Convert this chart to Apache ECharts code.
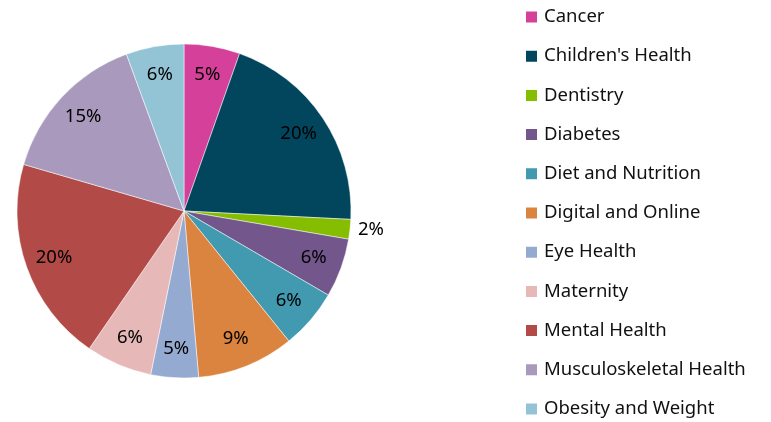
<!DOCTYPE html>
<html>
<head>
<meta charset="utf-8">
<script src="https://cdn.jsdelivr.net/npm/echarts@6/dist/echarts.min.js"></script>
<style>
  html, body { margin: 0; padding: 0; background: #fff; }
  #main { width: 771px; height: 422px; }
</style>
</head>
<body>
<div id="main"></div>
<script>
var categories = ['Cancer', "Children's Health", 'Dentistry', 'Diabetes', 'Diet and Nutrition',
    'Digital and Online', 'Eye Health', 'Maternity', 'Mental Health', 'Musculoskeletal Health',
    'Obesity and Weight'];
var shares = [5.4, 20.4, 1.9, 5.7, 5.8, 9.4, 4.6, 6.4, 19.9, 14.9, 5.6];
var colors = ['#D4409A', '#02465E', '#85BD00', '#72568C', '#419AAF', '#DB843F',
    '#95AAD1', '#E6B8B7', '#B24B48', '#A99ABD', '#93C4D6'];

(function() {
    var myChart = echarts.init(document.getElementById('main'));
    var font = "'Noto Sans', sans-serif";

    var pieData = categories.map(function(name, i) {
        return { name: name, value: shares[i], itemStyle: { color: colors[i] } };
    });
    // label ring: same values, transparent, labels sit near the rim
    var labelData = categories.map(function(name, i) {
        var item = { name: name, value: shares[i] };
        if (shares[i] < 3) {
            item.label = { position: 'outside' };
        }
        return item;
    });

    var option = {
        animation: false,
        legend: {
            orient: 'vertical',
            left: 524,
            top: 6,
            height: 420,
            padding: 0,
            itemWidth: 13,
            itemHeight: 13,
            itemGap: 17.2,
            icon: 'rect',
            data: categories,
            textStyle: {
                fontFamily: font,
                fontSize: 18.5,
                lineHeight: 22,
                color: '#111',
                padding: [0, 0, 0, 1]
            }
        },
        series: [{
                type: 'pie',
                center: [184, 211],
                radius: [0, 167],
                startAngle: 90,
                data: pieData,
                label: { show: false },
                labelLine: { show: false },
                itemStyle: { borderColor: '#fff', borderWidth: 0.5 },
                emphasis: { disabled: true }
            },
            {
                type: 'pie',
                center: [184, 211],
                radius: [103, 167],
                startAngle: 90,
                silent: true,
                avoidLabelOverlap: false,
                data: labelData,
                itemStyle: { color: 'rgba(0,0,0,0)' },
                label: {
                    show: true,
                    position: 'inside',
                    fontFamily: font,
                    fontSize: 18.5,
                    color: '#000',
                    formatter: function(p) {
                        return Math.round(p.value) + '%';
                    }
                },
                labelLine: { show: false, length: 3, length2: 0 },
                emphasis: { disabled: true }
            }
        ]
    };

    myChart.setOption(option);
})();
</script>
</body>
</html>
